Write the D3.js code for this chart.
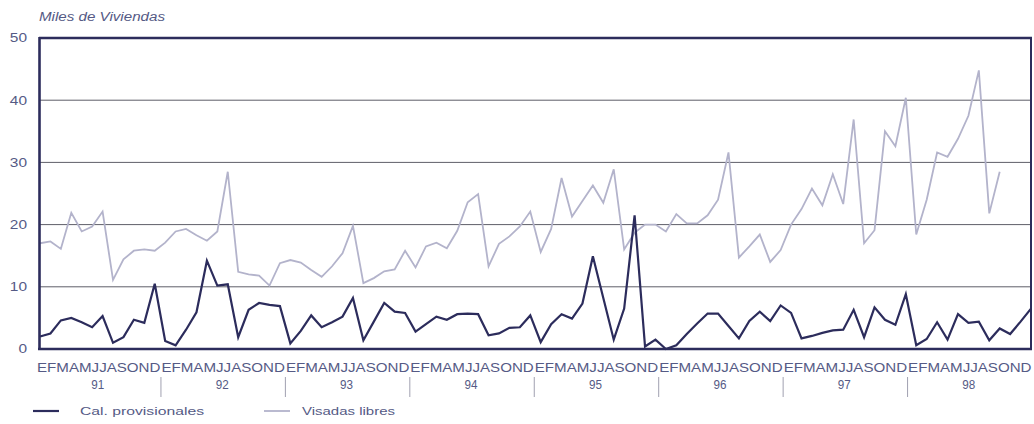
<!DOCTYPE html>
<html>
<head>
<meta charset="utf-8">
<script src="https://cdn.jsdelivr.net/npm/d3@7"></script>
<style>
  html, body { margin: 0; padding: 0; background: #ffffff; }
  svg { display: block; }
  text { font-family: "Liberation Sans", Arial, sans-serif; }
</style>
</head>
<body>
<div id="chart"></div>
<script>
// ---------------- data ----------------
const monthLetters = ["E","F","M","A","M","J","J","A","S","O","N","D"];
const years = ["91","92","93","94","95","96","97","98"];
const yTicks = [0, 10, 20, 30, 40, 50];
const gridValues = [10, 20, 30, 40];
const seriesNames = ["Cal. provisionales", "Visadas libres"];

// Monthly values, Jan 1991 - Dec 1998 (thousands of dwellings)
const calProvisionales = [
  2.0, 2.5, 4.6, 5.0, 4.3, 3.5, 5.3, 1.0, 1.9, 4.7, 4.2, 10.5,   // 91
  1.3, 0.6, 3.1, 5.9, 14.2, 10.2, 10.4, 1.9, 6.3, 7.4, 7.1, 6.9, // 92
  0.9, 2.9, 5.4, 3.5, 4.3, 5.2, 8.2, 1.4, 4.4, 7.4, 6.0, 5.8,    // 93
  2.8, 4.0, 5.2, 4.7, 5.6, 5.7, 5.6, 2.2, 2.5, 3.4, 3.5, 5.4,    // 94
  1.1, 4.0, 5.6, 4.9, 7.3, 14.9, 8.2, 1.5, 6.5, 21.5, 0.4, 1.5,  // 95
  0.0, 0.6, 2.4, 4.1, 5.7, 5.7, 3.7, 1.7, 4.5, 6.0, 4.5, 7.0,    // 96
  5.8, 1.7, 2.1, 2.6, 3.0, 3.1, 6.3, 1.9, 6.7, 4.7, 3.9, 8.8,    // 97
  0.6, 1.6, 4.3, 1.5, 5.6, 4.2, 4.4, 1.4, 3.3, 2.4, 4.4, 6.5     // 98
];
const visadasLibres = [
  17.0, 17.3, 16.1, 21.9, 18.9, 19.7, 22.1, 11.1, 14.4, 15.8, 16.0, 15.8, // 91
  17.1, 18.9, 19.3, 18.3, 17.4, 18.9, 28.5, 12.4, 12.0, 11.8, 10.2, 13.8, // 92
  14.3, 13.9, 12.7, 11.6, 13.3, 15.4, 19.8, 10.6, 11.4, 12.5, 12.8, 15.8, // 93
  13.1, 16.5, 17.1, 16.2, 19.0, 23.6, 24.9, 13.3, 16.9, 18.1, 19.7, 22.1, // 94
  15.6, 19.3, 27.5, 21.3, 23.8, 26.3, 23.5, 28.9, 16.0, 18.7, 20.0, 20.0, // 95
  18.9, 21.7, 20.2, 20.2, 21.5, 24.0, 31.6, 14.7, 16.5, 18.4, 14.0, 15.9, // 96
  20.0, 22.5, 25.8, 23.1, 28.1, 23.3, 36.9, 17.0, 19.1, 35.0, 32.6, 40.4, // 97
  18.4, 24.0, 31.6, 30.9, 33.8, 37.5, 44.8, 21.8, 28.5                   // 98 (to Sep)
];

// ---------------- layout ----------------
const W = 1034, H = 424;
const navy = "#2c2c5c";
const light = "#b3b3cb";
const textCol = "#555a85";

const svg = d3.select("#chart").append("svg")
  .attr("width", W).attr("height", H);

const nMonths = years.length * 12;
const x = d3.scaleLinear().domain([0, nMonths - 1]).range([40, 1031]);
const y = d3.scaleLinear().domain([0, 50]).range([349, 38]);
const xYear = d3.scaleLinear().domain([0, years.length]).range([36.5, 1032]);

// gridlines
svg.append("g").selectAll("line").data(gridValues).join("line")
  .attr("x1", 40).attr("x2", 1031)
  .attr("y1", d => y(d)).attr("y2", d => y(d))
  .attr("stroke", "#5e5e68").attr("stroke-width", 1);

// frame
svg.append("line").attr("x1", 39).attr("x2", 1032).attr("y1", y(50)).attr("y2", y(50))
  .attr("stroke", navy).attr("stroke-width", 2.6);
svg.append("line").attr("x1", 1031).attr("x2", 1031).attr("y1", y(50)).attr("y2", y(0))
  .attr("stroke", navy).attr("stroke-width", 2);

// series lines
const lineGen = d3.line().x((d, i) => x(i)).y(d => y(d)).curve(d3.curveLinear);
svg.append("path").datum(visadasLibres)
  .attr("fill", "none").attr("stroke", light).attr("stroke-width", 1.8)
  .attr("stroke-linejoin", "miter").attr("d", lineGen);
svg.append("path").datum(calProvisionales)
  .attr("fill", "none").attr("stroke", navy).attr("stroke-width", 2.2)
  .attr("stroke-linejoin", "miter").attr("d", lineGen);

// axes lines (left, bottom)
svg.append("line").attr("x1", 39.5).attr("x2", 39.5).attr("y1", y(50) - 1).attr("y2", y(0) + 1)
  .attr("stroke", navy).attr("stroke-width", 2.6);
svg.append("line").attr("x1", 38).attr("x2", 1032).attr("y1", y(0)).attr("y2", y(0))
  .attr("stroke", navy).attr("stroke-width", 2.6);

// y axis labels
const yAxis = d3.axisLeft(y).tickValues(yTicks).tickSize(0).tickPadding(0).tickFormat(d3.format("d"));
const gy = svg.append("g").attr("transform", "translate(27,0)").call(yAxis);
gy.select(".domain").remove();
gy.selectAll("text")
  .attr("font-family", "'Liberation Sans', Arial, sans-serif")
  .attr("font-size", 12).attr("fill", textCol)
  .attr("dy", "0.32em")
  .attr("textLength", d => String(d).length * 8.6)
  .attr("lengthAdjust", "spacingAndGlyphs");

// title
svg.append("text").attr("x", 39).attr("y", 21)
  .attr("font-size", 12.5).attr("font-style", "italic").attr("fill", textCol)
  .attr("textLength", 126).attr("lengthAdjust", "spacingAndGlyphs")
  .text("Miles de Viviendas");

// month letters per year
svg.append("g").selectAll("text").data(years).join("text")
  .attr("x", (d, i) => xYear(i) + 0.5)
  .attr("y", 372)
  .attr("font-size", 13).attr("fill", textCol)
  .attr("textLength", (xYear(1) - xYear(0)) - 1)
  .attr("lengthAdjust", "spacingAndGlyphs")
  .text(monthLetters.join(""));

// year labels
svg.append("g").selectAll("text").data(years).join("text")
  .attr("x", (d, i) => xYear(i + 0.5) - 1)
  .attr("y", 389)
  .attr("text-anchor", "middle")
  .attr("font-size", 12).attr("fill", textCol)
  .attr("textLength", 13).attr("lengthAdjust", "spacingAndGlyphs")
  .text(d => d);

// year separators
svg.append("g").selectAll("line").data(d3.range(1, years.length)).join("line")
  .attr("x1", d => xYear(d)).attr("x2", d => xYear(d))
  .attr("y1", 377).attr("y2", 397)
  .attr("stroke", "#a0a0b0").attr("stroke-width", 1);

// legend
const legend = [
  { name: seriesNames[0], color: navy, width: 2.2, x: 33, tx: 80, tl: 124 },
  { name: seriesNames[1], color: light, width: 1.8, x: 264, tx: 302, tl: 93 }
];
const lg = svg.append("g");
lg.selectAll("line").data(legend).join("line")
  .attr("x1", d => d.x).attr("x2", d => d.x + 26)
  .attr("y1", 411).attr("y2", 411)
  .attr("stroke", d => d.color).attr("stroke-width", d => d.width);
lg.selectAll("text").data(legend).join("text")
  .attr("x", d => d.tx).attr("y", 415)
  .attr("font-size", 11.5).attr("fill", textCol)
  .attr("textLength", d => d.tl).attr("lengthAdjust", "spacingAndGlyphs")
  .text(d => d.name);
</script>
</body>
</html>
